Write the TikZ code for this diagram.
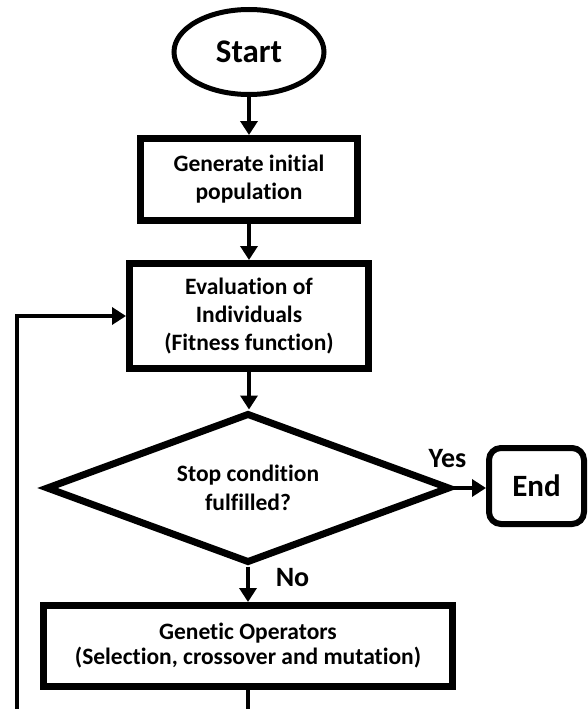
\documentclass[tikz,border=0pt]{standalone}
\usepackage{fontspec}
\setmainfont{Carlito}[Ligatures=NoCommon]
\usetikzlibrary{arrows.meta,shapes.geometric}
\begin{document}
\begin{tikzpicture}[x=1pt,y=-1pt,
  boxtext/.style={font=\bfseries\fontsize{23.5}{28}\selectfont, align=center},
  procbox/.style={draw, rectangle, line width=7pt, inner sep=0pt, boxtext},
  conn/.style={line width=4pt, -{Triangle[length=14pt,width=17pt]}},
  lbl/.style={font=\bfseries\fontsize{28}{30}\selectfont, inner sep=0pt}]
\useasboundingbox (0,0) rectangle (587,709);
\clip (0,0) rectangle (587,709);
\fill[white] (0,0) rectangle (587,709);

\node[draw, ellipse, line width=5pt, inner sep=0pt, minimum width=150pt, minimum height=85pt,
      font=\bfseries\fontsize{33}{36}\selectfont] (start) at (249,52) {Start};
\node[procbox, minimum width=217pt, minimum height=82pt] (gen) at (249,179.5) {Generate initial\\population};
\node[procbox, minimum width=239pt, minimum height=105pt] (eval) at (249,316) {Evaluation of\\Individuals\\(Fitness function)};
\node[draw, diamond, aspect=2.6, line width=7pt, inner sep=0pt, minimum width=404pt, minimum height=150pt,
      boxtext, font=\bfseries\fontsize{23.5}{29}\selectfont] (dec) at (248,488) {Stop condition\\fulfilled?};
\node[draw, rectangle, rounded corners=12pt, line width=6pt, inner sep=0pt, minimum width=95pt, minimum height=76pt,
      font=\bfseries\fontsize{31}{34}\selectfont] (end) at (536.5,486) {End};
\node[procbox, minimum width=409pt, minimum height=81pt,
      font=\bfseries\fontsize{23.5}{25}\selectfont] (genop) at (248,646) {Genetic Operators\\(Selection, crossover and mutation)};

\node[lbl] (yes) at (447.5,459) {Yes};
\node[lbl] (no) at (292.5,578) {No};

\coordinate (bot) at (17,716);

\draw[conn] (start.south) -- (start.south |- gen.north);
\draw[conn] (gen.south) -- (eval.north);
\draw[conn] (eval.south) -- (eval.south |- dec.north);
\draw[conn] (dec.east) -- (dec.east -| end.west);
\draw[conn] (dec.south) -- (genop.north);
\draw[conn] (genop.south) |- (bot) |- (eval.west);
\end{tikzpicture}
\end{document}
